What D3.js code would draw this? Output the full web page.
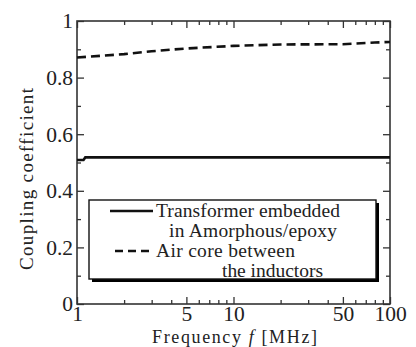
<!DOCTYPE html>
<html>
<head>
<meta charset="utf-8">
<script src="https://cdn.jsdelivr.net/npm/d3@7"></script>
<style>
  body { margin: 0; background: #fff; }
  svg { display: block; }
  .axis text { font-family: "Liberation Serif", "Times New Roman", serif; font-size: 21.5px; fill: #222; }
  .axis path { display: none; }
  .axis line { stroke: #333; stroke-width: 1.3; }
</style>
</head>
<body>
<script>
// frequency points (MHz) and coupling coefficient
const freqAir = [1, 2, 3, 5, 10, 20, 50, 80, 100];
const kAir = [0.871, 0.883, 0.893, 0.903, 0.912, 0.917, 0.918, 0.924, 0.926];
const freqAmor = [1, 1.1, 1.13, 2, 5, 10, 50, 100];
const kAmor = [0.509, 0.509, 0.518, 0.518, 0.518, 0.518, 0.518, 0.518];

const xMajor = [1, 5, 10, 50, 100];
const xMinor = [2, 3, 4, 6, 7, 8, 9, 20, 30, 40, 60, 70, 80, 90];
const yMajor = [0, 0.2, 0.4, 0.6, 0.8, 1];
const yMinor = [0.1, 0.3, 0.5, 0.7, 0.9];

const legendLabels = [
  ["Transformer embedded", "in Amorphous/epoxy"],
  ["Air core between", "the inductors"]
];

const W = 416, H = 347;
const m = {left: 77, top: 21, right: 26, bottom: 43};
const w = W - m.left - m.right, h = H - m.top - m.bottom;

const svg = d3.select("body").append("svg").attr("width", W).attr("height", H);
const g = svg.append("g").attr("transform", `translate(${m.left},${m.top})`);

const x = d3.scaleLog().domain([1, 100]).range([0, w]);
const y = d3.scaleLinear().domain([0, 1]).range([h, 0]);

// axes: ticks point inward
g.append("g").attr("class", "axis").attr("transform", `translate(0,${h})`)
  .call(d3.axisBottom(x).tickValues(xMajor).tickFormat(d3.format("d")).tickSize(-7).tickSizeOuter(0).tickPadding(2));
g.append("g").attr("class", "axis").attr("transform", `translate(0,${h})`)
  .call(d3.axisBottom(x).tickValues(xMinor).tickFormat("").tickSize(-4).tickSizeOuter(0));
g.append("g").attr("class", "axis")
  .call(d3.axisTop(x).tickValues(xMajor).tickFormat("").tickSize(-7).tickSizeOuter(0));
g.append("g").attr("class", "axis")
  .call(d3.axisTop(x).tickValues(xMinor).tickFormat("").tickSize(-4).tickSizeOuter(0));

g.append("g").attr("class", "axis")
  .call(d3.axisLeft(y).tickValues(yMajor).tickFormat(d => d === 0 || d === 1 ? d : d3.format(".1f")(d)).tickSize(-7).tickSizeOuter(0).tickPadding(4));
g.append("g").attr("class", "axis")
  .call(d3.axisLeft(y).tickValues(yMinor).tickFormat("").tickSize(-4).tickSizeOuter(0));
g.append("g").attr("class", "axis").attr("transform", `translate(${w},0)`)
  .call(d3.axisRight(y).tickValues(yMajor).tickFormat("").tickSize(-7).tickSizeOuter(0));
g.append("g").attr("class", "axis").attr("transform", `translate(${w},0)`)
  .call(d3.axisRight(y).tickValues(yMinor).tickFormat("").tickSize(-4).tickSizeOuter(0));

// frame
g.append("rect").attr("width", w).attr("height", h)
  .attr("fill", "none").attr("stroke", "#333").attr("stroke-width", 1.6);

const line = d3.line().x(d => x(d[0])).y(d => y(d[1]));

g.append("path").datum(d3.zip(freqAmor, kAmor)).attr("d", line)
  .attr("fill", "none").attr("stroke", "#111").attr("stroke-width", 2.6);
g.append("path").datum(d3.zip(freqAir, kAir)).attr("d", line)
  .attr("fill", "none").attr("stroke", "#111").attr("stroke-width", 2.6)
  .attr("stroke-dasharray", "9,5");

// legend with drop shadow
const lg = svg.append("g");
lg.append("rect").attr("x", 92).attr("y", 203).attr("width", 287).attr("height", 79).attr("fill", "#000");
lg.append("rect").attr("x", 89).attr("y", 200).attr("width", 287).attr("height", 79)
  .attr("fill", "#fff").attr("stroke", "#111").attr("stroke-width", 1.4);
lg.append("line").attr("x1", 110).attr("x2", 153).attr("y1", 211).attr("y2", 211)
  .attr("stroke", "#111").attr("stroke-width", 2.6);
lg.append("line").attr("x1", 115).attr("x2", 153).attr("y1", 251).attr("y2", 251)
  .attr("stroke", "#111").attr("stroke-width", 2.6).attr("stroke-dasharray", "8,5");

const legendText = [
  {t: legendLabels[0][0], x: 156, y: 217, len: 184},
  {t: legendLabels[0][1], x: 169, y: 237, len: 168},
  {t: legendLabels[1][0], x: 156, y: 257, len: 139},
  {t: legendLabels[1][1], x: 222, y: 277, len: 101}
];
lg.selectAll("text.leg").data(legendText).join("text")
  .attr("class", "leg")
  .attr("x", d => d.x).attr("y", d => d.y)
  .attr("textLength", d => d.len).attr("lengthAdjust", "spacing")
  .style("font-family", '"Liberation Serif", serif').style("font-size", "19.5px").style("fill", "#222")
  .text(d => d.t);

// axis titles
const xt = svg.append("text").attr("x", 152).attr("y", 343)
  .attr("textLength", 165).attr("lengthAdjust", "spacing")
  .style("font-family", '"Liberation Serif", serif').style("font-size", "18px").style("fill", "#222");
xt.append("tspan").text("Frequency ");
xt.append("tspan").style("font-style", "italic").text("f");
xt.append("tspan").text(" [MHz]");

svg.append("text").attr("transform", "translate(33,270) rotate(-90)")
  .attr("textLength", 182).attr("lengthAdjust", "spacing")
  .style("font-family", '"Liberation Serif", serif').style("font-size", "19px").style("fill", "#222")
  .text("Coupling coefficient");
</script>
</body>
</html>
